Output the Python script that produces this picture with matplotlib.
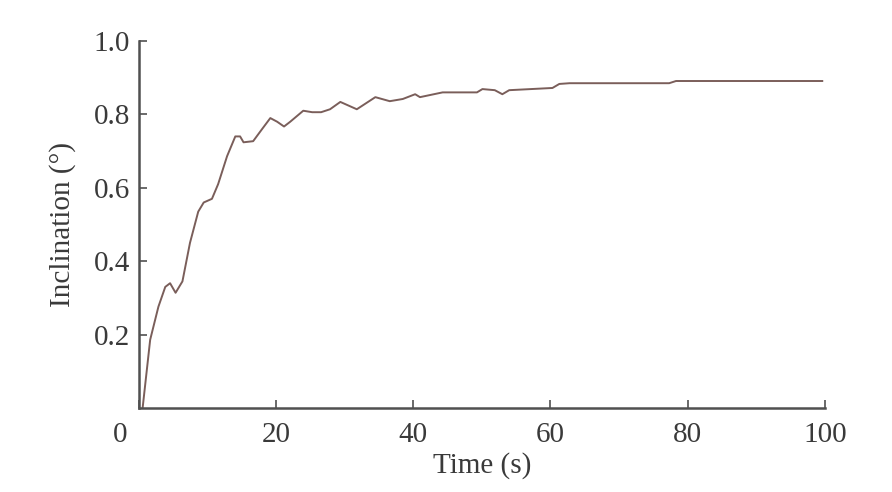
import matplotlib
matplotlib.use("Agg")
import matplotlib.pyplot as plt

# Data
time_s = [0.6, 1.7, 2.9, 3.9, 4.6, 5.4, 6.4, 7.5, 8.7, 9.5, 10.7, 11.6, 12.9, 14.1,
          14.8, 15.3, 16.7, 18.0, 19.2, 20.2, 21.2, 22.1, 24.0, 25.3, 26.6, 27.9,
          29.4, 31.8, 34.5, 36.6, 38.5, 40.3, 41.0, 44.3, 49.3, 50.1, 51.9, 53.0,
          54.0, 60.3, 61.3, 62.8, 77.3, 78.3, 99.6]
inclination = [0.0, 0.186, 0.276, 0.33, 0.34, 0.314, 0.345, 0.45, 0.535, 0.56, 0.57,
               0.61, 0.686, 0.74, 0.74, 0.724, 0.727, 0.76, 0.79, 0.78, 0.767, 0.78,
               0.81, 0.806, 0.806, 0.814, 0.834, 0.814, 0.847, 0.836, 0.842, 0.855,
               0.847, 0.86, 0.86, 0.869, 0.866, 0.855, 0.866, 0.872, 0.883, 0.885,
               0.885, 0.891, 0.891]
x_ticks = [0, 20, 40, 60, 80, 100]
x_labels = ["", "20", "40", "60", "80", "100"]
y_ticks = [0.2, 0.4, 0.6, 0.8, 1.0]
y_labels = ["0.2", "0.4", "0.6", "0.8", "1.0"]

plt.rcParams['font.family'] = ['Liberation Serif', 'DejaVu Serif']
text_color = "#3a3a3a"
spine_color = "#505050"

fig = plt.figure(figsize=(8.92, 4.92), dpi=100)
ax = fig.add_axes([138.5 / 892, 1 - 408 / 492, (825 - 138.5) / 892, (408 - 41) / 492])

ax.plot(time_s, inclination, color="#7a5e5a", lw=1.4)

ax.set_xlim(0, 100)
ax.set_ylim(0, 1.0)
ax.set_xticks(x_ticks)
ax.set_xticklabels(x_labels)
ax.set_yticks(y_ticks)
ax.set_yticklabels(y_labels)

for s in ["top", "right"]:
    ax.spines[s].set_visible(False)
for s in ["left", "bottom"]:
    ax.spines[s].set_color(spine_color)
    ax.spines[s].set_linewidth(1.8)

ax.tick_params(direction="in", length=6, width=1.2, color=spine_color,
               labelsize=21, labelcolor=text_color)
ax.tick_params(axis="x", pad=10)
ax.tick_params(axis="y", pad=6)

ax.annotate("0", xy=(0, 0), xycoords="data", xytext=(-13.5, -10),
            textcoords="offset points", ha="center", va="top",
            fontsize=21, color=text_color)

ax.set_xlabel("Time (s)", fontsize=21, color=text_color, labelpad=3)
ax.set_ylabel("Inclination (°)", fontsize=21, color=text_color, labelpad=13)

fig.savefig("out.png", dpi=100)
